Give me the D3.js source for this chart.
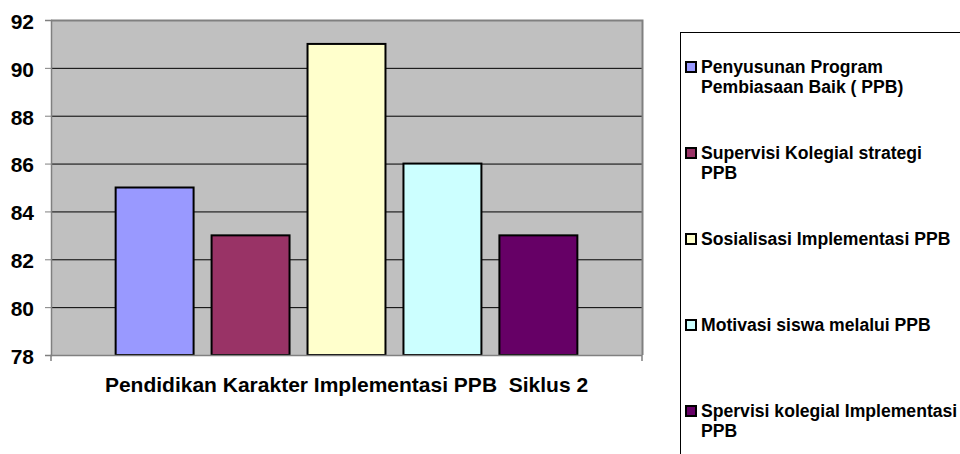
<!DOCTYPE html>
<html>
<head>
<meta charset="utf-8">
<script src="https://cdn.jsdelivr.net/npm/d3@7"></script>
<style>
  body { margin: 0; background: #fff; }
  svg { display: block; font-family: Arial, "Liberation Sans", sans-serif; font-weight: bold; }
</style>
</head>
<body>
<svg id="chart" width="960" height="454"></svg>
<script>
const category = 'Pendidikan Karakter Implementasi PPB  Siklus 2';
const seriesNames = [
  'Penyusunan Program Pembiasaan Baik ( PPB)',
  'Supervisi Kolegial strategi PPB',
  'Sosialisasi Implementasi PPB',
  'Motivasi siswa melalui PPB',
  'Spervisi kolegial Implementasi PPB'
];
const legendLines = [
  ['Penyusunan Program', 'Pembiasaan Baik ( PPB)'],
  ['Supervisi Kolegial strategi', 'PPB'],
  ['Sosialisasi Implementasi PPB'],
  ['Motivasi siswa melalui PPB'],
  ['Spervisi kolegial Implementasi', 'PPB']
];
const values = [85, 83, 91, 86, 83];
const colors = ['#9999FF', '#993366', '#FFFFCC', '#CCFFFF', '#660066'];
const yTicks = [78, 80, 82, 84, 86, 88, 90, 92];

const svg = d3.select('#chart');
const plot = {left: 51, top: 20, right: 642, bottom: 355};

const y = d3.scaleLinear().domain([78, 92]).range([plot.bottom, plot.top]);
const x0 = d3.scaleBand().domain([category]).range([plot.left, plot.right]).paddingInner(0).paddingOuter(0.14);
const x1 = d3.scaleBand().domain(seriesNames).range([0, x0.bandwidth()]).paddingInner(0.1875);

// plot background
svg.append('rect')
  .attr('x', plot.left).attr('y', plot.top)
  .attr('width', plot.right - plot.left).attr('height', plot.bottom - plot.top)
  .attr('fill', '#C0C0C0');

// gridlines
svg.append('g')
  .selectAll('line')
  .data(yTicks.filter(d => d > 78 && d < 92))
  .join('line')
  .attr('x1', plot.left).attr('x2', plot.right)
  .attr('y1', d => y(d) + 0.5).attr('y2', d => y(d) + 0.5)
  .attr('stroke', '#000').attr('stroke-width', 1);

// plot border (top/right gray)
svg.append('path')
  .attr('d', `M${plot.left},${plot.top + 0.5}H${plot.right + 0.5}V${plot.bottom}`)
  .attr('fill', 'none').attr('stroke', '#808080').attr('stroke-width', 2);

// bars
svg.append('g')
  .selectAll('rect')
  .data(values)
  .join('rect')
  .attr('x', (d, i) => x0(category) + x1(seriesNames[i]))
  .attr('y', d => y(d))
  .attr('width', x1.bandwidth())
  .attr('height', d => y(78) - y(d))
  .attr('fill', (d, i) => colors[i])
  .attr('stroke', '#000').attr('stroke-width', 2);

// y axis
const yAxis = svg.append('g')
  .attr('transform', `translate(${plot.left},0)`)
  .call(d3.axisLeft(y).tickValues(yTicks).tickSize(6).tickPadding(11).tickFormat(d3.format('d')));
yAxis.select('.domain').attr('stroke', '#808080').attr('stroke-width', 1.5);
yAxis.selectAll('.tick line').attr('stroke', '#808080');
yAxis.selectAll('.tick text')
  .attr('font-size', 21).attr('font-weight', 'bold')
  .attr('font-family', 'Arial, "Liberation Sans", sans-serif').attr('fill', '#000')
  .attr('dy', '0.4em');

// x axis
const xAxis = svg.append('g')
  .attr('transform', `translate(0,${plot.bottom})`)
  .call(d3.axisBottom(x0).tickSize(0).tickPadding(22));
xAxis.select('.domain').attr('stroke', '#808080').attr('stroke-width', 1.5)
  .attr('d', `M${plot.left},6V0.5H${plot.right}V6`);
xAxis.selectAll('.tick text')
  .attr('font-size', 21).attr('font-weight', 'bold')
  .attr('font-family', 'Arial, "Liberation Sans", sans-serif').attr('fill', '#000')
  .style('white-space', 'pre');

// legend
const legend = svg.append('g');
legend.append('rect')
  .attr('x', 680.5).attr('y', 32.5).attr('width', 300).attr('height', 440)
  .attr('fill', '#fff').attr('stroke', '#000').attr('stroke-width', 1);

const item = legend.selectAll('g.item')
  .data(seriesNames)
  .join('g')
  .attr('class', 'item')
  .attr('transform', (d, i) => `translate(686,${67 + 86 * i})`);

item.append('rect')
  .attr('x', 0).attr('y', -5).attr('width', 10).attr('height', 10)
  .attr('fill', (d, i) => colors[i])
  .attr('stroke', '#000').attr('stroke-width', 2);

item.append('text')
  .attr('x', 15)
  .attr('font-size', 17.6)
  .attr('fill', '#000')
  .selectAll('tspan')
  .data((d, i) => legendLines[i])
  .join('tspan')
  .attr('x', 15)
  .attr('y', (d, j) => j * 20)
  .attr('dy', '0.36em')
  .text(d => d);
</script>
</body>
</html>
